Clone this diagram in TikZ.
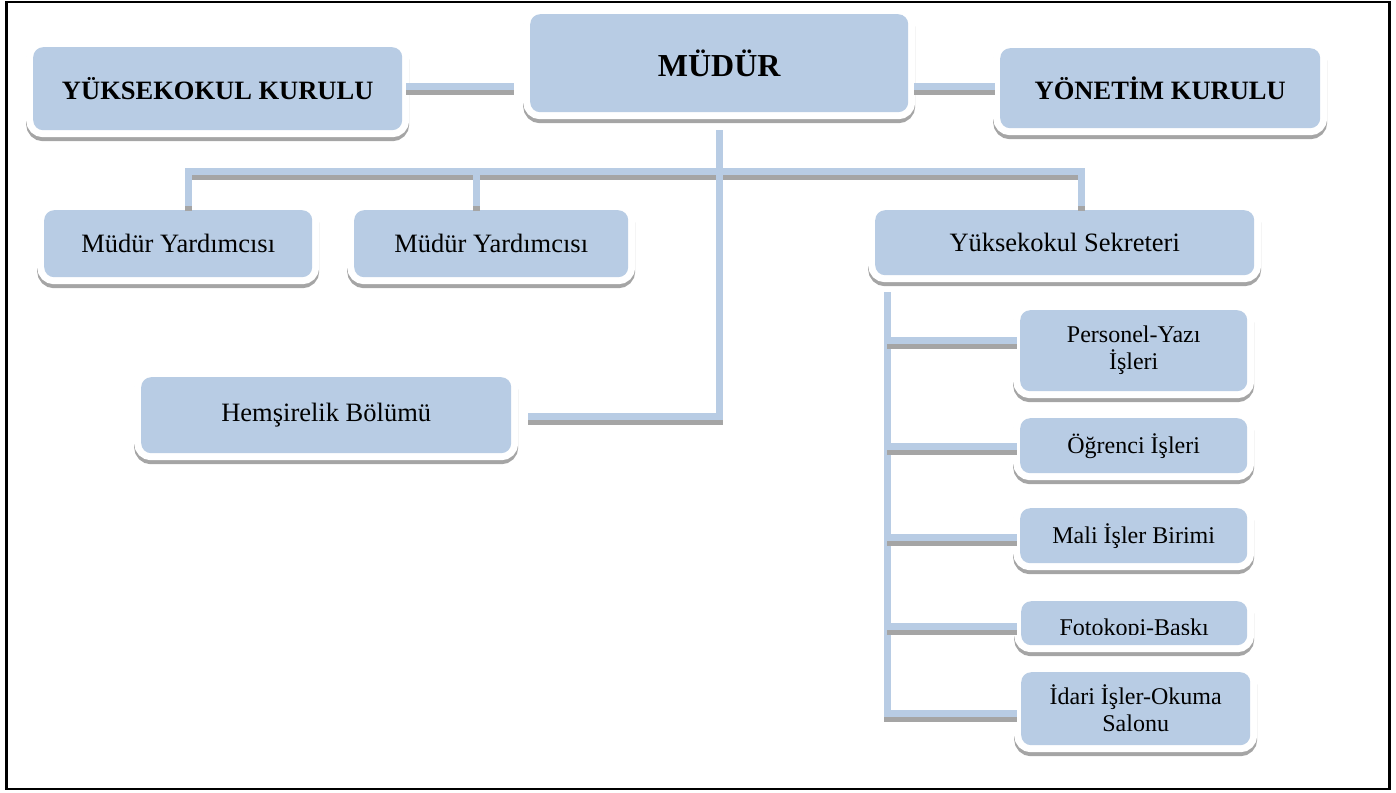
\documentclass[tikz,border=0pt]{standalone}
\usepackage{fontspec}
\setmainfont{Liberation Serif}
\usetikzlibrary{positioning,calc}
\definecolor{boxblue}{RGB}{184,204,228}
\definecolor{shadowgray}{RGB}{165,165,165}

\begin{document}
\begin{tikzpicture}[%
    x=1pt, y=-1pt,              % one unit = one pixel of the chart, y runs down
    every node/.style={inner sep=0pt},
    ]
% -------------------------------------------------
% Box and connector styles
\tikzset{
unit/.style={anchor=north west, fill=boxblue, rounded corners=10pt, align=center,
  preaction={draw=shadowgray, line width=14pt, transform canvas={yshift=-4pt}},
  preaction={draw=white, line width=14pt}},
head/.style={unit, font=\fontsize{26.5}{30}\selectfont\bfseries},
chief/.style={unit, font=\fontsize{32}{36}\selectfont\bfseries},
mid/.style={unit, font=\fontsize{26.5}{30}\selectfont},
side/.style={unit, font=\fontsize{24}{27}\selectfont},
% connectors are wide blue bars with a grey shadow below
link/.style={draw=boxblue, line width=7pt,
  preaction={draw=shadowgray, line width=7pt, transform canvas={yshift=-5pt}}},
}
\useasboundingbox (0,0) rectangle (1396,792);
\draw[line width=2.5pt] (6.5,2) rectangle (1389.5,789);
% -------------------------------------------------
% Top row
\node [head, minimum width=369pt, minimum height=83pt] (yk) at (33,47) {YÜKSEKOKUL KURULU};
\node [chief, minimum width=378pt, minimum height=98pt] (mudur) at (530,14) {MÜDÜR};
\node [head, minimum width=320pt, minimum height=80pt] (yonetim) at (1000,48) {YÖNETİM KURULU};

% Second row
\node [mid, minimum width=268pt, minimum height=67pt] (myard1) at (44,210) {Müdür Yardımcısı};
\node [mid, minimum width=274pt, minimum height=67pt] (myard2) at (354,210) {Müdür Yardımcısı};
\node [mid, minimum width=379pt, minimum height=65pt] (sekreter) at (875,210) {Yüksekokul Sekreteri};

\node [mid, minimum width=370pt, minimum height=76pt] (hemsirelik) at (141,377) {Hemşirelik Bölümü};

% Units under the secretary
\node [side, minimum width=227pt, minimum height=81pt] (personel) at (1020,310) {Personel-Yazı\\İşleri};
\node [side, minimum width=227pt, minimum height=55pt] (ogrenci) at (1020,418) {Öğrenci İşleri};
\node [side, minimum width=227pt, minimum height=55pt] (mali) at (1020,508) {Mali İşler Birimi};
\node [side, minimum width=226pt, minimum height=44pt] (fotokopi) at (1021,601) {};
\node [side, minimum width=229pt, minimum height=73pt] (idari) at (1021,672) {İdari İşler-Okuma\\Salonu};

% text of this box is cut off at its baseline
\begin{scope}
    \clip (fotokopi.north west) rectangle ([yshift=10.5pt]fotokopi.south east);
    \node [anchor=base, font=\fontsize{24}{27}\selectfont] (fotokopitext) at ([yshift=-12pt]fotokopi.center) {Fotokopi-Baskı};
\end{scope}

% -------------------------------------------------
% Connectors
\draw [link] ([xshift=4pt,yshift=2.5pt]yk.east) -- ([xshift=-16pt,yshift=-23pt]mudur.west);
\draw [link] ([xshift=6pt,yshift=-23pt]mudur.east) -- ([xshift=-5pt,yshift=2pt]yonetim.west);

\coordinate (bus) at ([yshift=-59pt]mudur.south);
\coordinate (d1) at ([xshift=10pt,yshift=4pt]myard1.north);
\coordinate (d2) at ([xshift=-14.5pt,yshift=4pt]myard2.north);
\coordinate (d3) at ([xshift=17pt,yshift=4pt]sekreter.north);
\draw [link] (d1) -- (d1 |- bus) -- (d3 |- bus) -- (d3);
\draw [link] (d2) -- (d2 |- bus);

\coordinate (m1) at ([yshift=-18pt]mudur.south);
\coordinate (h1) at ([xshift=17pt,yshift=-1.5pt]hemsirelik.east);
\draw [link] (m1) |- (h1);

\coordinate (s1) at ([xshift=12pt,yshift=-17pt]sekreter.south west);
\coordinate (i5) at ([xshift=-4pt,yshift=-4.5pt]idari.west);
\draw [link] (s1) |- (i5);
\foreach \target/\dx/\dy in {personel/-3/10.5, ogrenci/-3/-0.5, mali/-3/-1.5, fotokopi/-4/-3}{
    \coordinate (b) at ([xshift=\dx pt,yshift=\dy pt]\target.west);
    \draw [link] (s1 |- b) -- (b);
}

\end{tikzpicture}
\end{document}
